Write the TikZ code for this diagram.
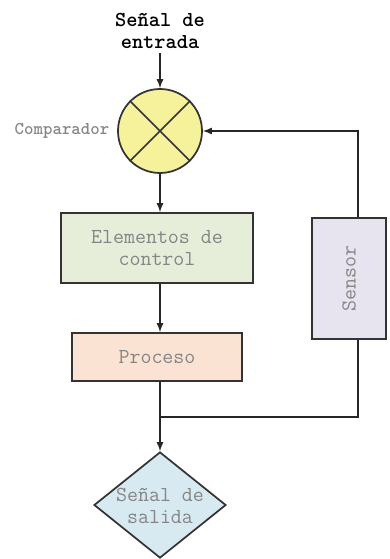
\documentclass[tikz,border=0pt]{standalone}
\usepackage{fontspec}
\usetikzlibrary{shapes.geometric}

\definecolor{amarillo}{HTML}{F6F29C}
\definecolor{verde}{HTML}{E6EDD9}
\definecolor{melocoton}{HTML}{FBE3D3}
\definecolor{lila}{HTML}{E7E4F0}
\definecolor{celeste}{HTML}{D7EAF2}
\definecolor{texto}{HTML}{858585}
\definecolor{borde}{HTML}{333333}

\tikzset{
  bloque/.style={draw=borde,line width=1.3pt,inner sep=0pt,
    font=\ttfamily\fontsize{16}{16}\selectfont,text=texto,align=center},
  flecha/.style={->,line width=1.3pt,draw=black!85}
}

\begin{document}
\begin{tikzpicture}[x=0.75pt,y=-0.75pt,>=latex]
\useasboundingbox (0,0) rectangle (389,559);

% entrada y comparador
\node[font=\ttfamily\bfseries\fontsize{16}{16.5}\selectfont,align=center] (entrada) at (160,31) {Señal de\\entrada};
\node[circle,draw=borde,line width=1.3pt,fill=amarillo,minimum size=63pt,inner sep=0pt] (comp) at (160,131) {};
\draw[borde,line width=1.3pt] (comp.north west) -- (comp.south east);
\draw[borde,line width=1.3pt] (comp.north east) -- (comp.south west);
\node[font=\ttfamily\bfseries\fontsize{13.5}{13}\selectfont,text=texto] (complab) at (62,131) {Comparador};

% bloques
\node[bloque,fill=verde,minimum width=144pt,minimum height=52.5pt] (control) at (157,248) {Elementos de\\control};
\node[bloque,fill=melocoton,minimum width=127.5pt,minimum height=36pt] (proceso) at (157,357) {Proceso};
\node[bloque,fill=lila,minimum width=55.5pt,minimum height=90.75pt] (sensor) at (349,278.5) {};
\node[font=\ttfamily\fontsize{16}{16}\selectfont,text=texto,rotate=90] (sensorlab) at (349,278.5) {Sensor};

% salida
\node[diamond,draw=borde,line width=1.3pt,fill=celeste,minimum width=99pt,minimum height=79.5pt,inner sep=0pt] (salida) at (160,505) {};
\node[font=\ttfamily\fontsize{16}{16}\selectfont,text=texto,align=center] (salidalab) at (160,506) {Señal de\\salida};

\coordinate (retro) at (358,417);
\coordinate (union) at (160,417);

% conexiones
\draw[flecha] (entrada.south) -- (comp.north);
\draw[flecha] (comp.south) -- (control.north -| comp.south);
\draw[flecha] (control.south -| comp.south) -- (proceso.north -| comp.south);
\draw[flecha] (proceso.south -| comp.south) -- (salida.north);
\draw[flecha] (sensor.north -| retro) |- (comp.east);
\draw[line width=1.3pt,draw=black!85] (sensor.south -| retro) -- (retro) -- (union);
\end{tikzpicture}
\end{document}
